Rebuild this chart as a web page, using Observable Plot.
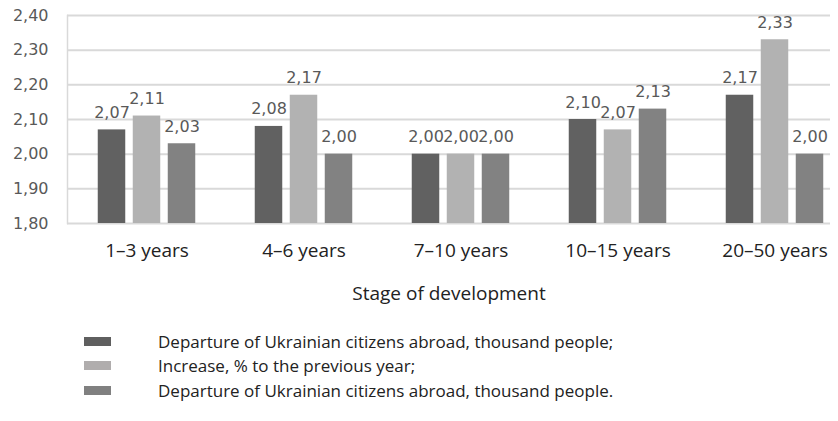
<!DOCTYPE html>
<html><head><meta charset="utf-8">
<script src="https://cdn.jsdelivr.net/npm/d3@7"></script>
<script src="https://cdn.jsdelivr.net/npm/@observablehq/plot@0.6"></script>
<style>
body{margin:0;background:#fff;}
#legend{margin-top:19px;font-family:"Open Sans",sans-serif;font-size:17px;color:#222;}
.row{display:flex;align-items:center;height:24.5px;white-space:nowrap;}
.sw{width:27px;height:9px;margin-left:84px;margin-right:47px;flex:none;}
</style></head><body><div id="chart"></div><div id="legend"></div>
<script>
const stages = ["1–3 years","4–6 years","7–10 years","10–15 years","20–50 years"];
const seriesKeys = ["s1","s2","s3"];
const seriesNames = [
  "Departure of Ukrainian citizens abroad, thousand people;",
  "Increase, % to the previous year;",
  "Departure of Ukrainian citizens abroad, thousand people."
];
const departure1 = [2.07, 2.08, 2.00, 2.10, 2.17];
const increase   = [2.11, 2.17, 2.00, 2.07, 2.33];
const departure2 = [2.03, 2.00, 2.00, 2.13, 2.00];
const yTicks = [1.8, 1.9, 2.0, 2.1, 2.2, 2.3, 2.4];
const barColors = ["#616161", "#b2b2b2", "#828282"];
const legendColors = ["#5f5f5f", "#b0adad", "#808080"];

const seriesValues = [departure1, increase, departure2];
const fmt = d => d.toFixed(2).replace(".", ",");

// group layout inside each stage band (band step 157.5)
const bandStep = 157.5, groupWidth = 105;
const sub = d3.scaleBand(seriesKeys, [0, groupWidth]).paddingInner(0.2).paddingOuter(0.1);
const groupOffset = (bandStep - groupWidth) / 2;

const seriesMarks = seriesKeys.flatMap((k, j) => {
  const data = stages.map((s, i) => ({stage: s, value: seriesValues[j][i]}));
  const left = groupOffset + sub(k);
  const right = bandStep - left - sub.bandwidth();
  const center = left + sub.bandwidth() / 2 - bandStep / 2;
  return [
    Plot.barY(data, {x: "stage", y1: 1.8, y2: "value", fill: barColors[j], insetLeft: left, insetRight: right}),
    Plot.text(data, {x: "stage", y: "value", text: d => fmt(d.value), dx: center, dy: -12, lineAnchor: "bottom",
      fill: "#595959", fontSize: 16, fontFamily: "DejaVu Sans"})
  ];
});

const chart = Plot.plot({
  width: 838, height: 310,
  marginLeft: 67, marginRight: 8, marginTop: 15, marginBottom: 87,
  style: {background: "#fff", color: "#595959"},
  x: {domain: stages, range: [67, 67 + bandStep * stages.length], padding: 0},
  y: {domain: [1.8, 2.4]},
  marks: [
    Plot.ruleY(yTicks, {stroke: "#d9d9d9", strokeWidth: 2}),
    Plot.frame({anchor: "left", stroke: "#d9d9d9", strokeWidth: 1.5}),
    Plot.axisY({ticks: yTicks, tickFormat: fmt, tickSize: 0, tickPadding: 19, label: null,
      fill: "#595959", fontSize: 16, fontFamily: "DejaVu Sans"}),
    ...seriesMarks,
    Plot.axisX({tickSize: 0, tickPadding: 20, fontSize: 19, fontFamily: "Open Sans",
      fill: "#222", label: "Stage of development", labelAnchor: "center", labelOffset: 76})
  ]
});
document.getElementById("chart").appendChild(chart);

const legend = document.getElementById("legend");
seriesNames.forEach((name, i) => {
  const row = document.createElement("div");
  row.className = "row";
  const sw = document.createElement("span");
  sw.className = "sw";
  sw.style.background = legendColors[i];
  const t = document.createElement("span");
  t.textContent = name;
  row.appendChild(sw); row.appendChild(t);
  legend.appendChild(row);
});
</script></body></html>
